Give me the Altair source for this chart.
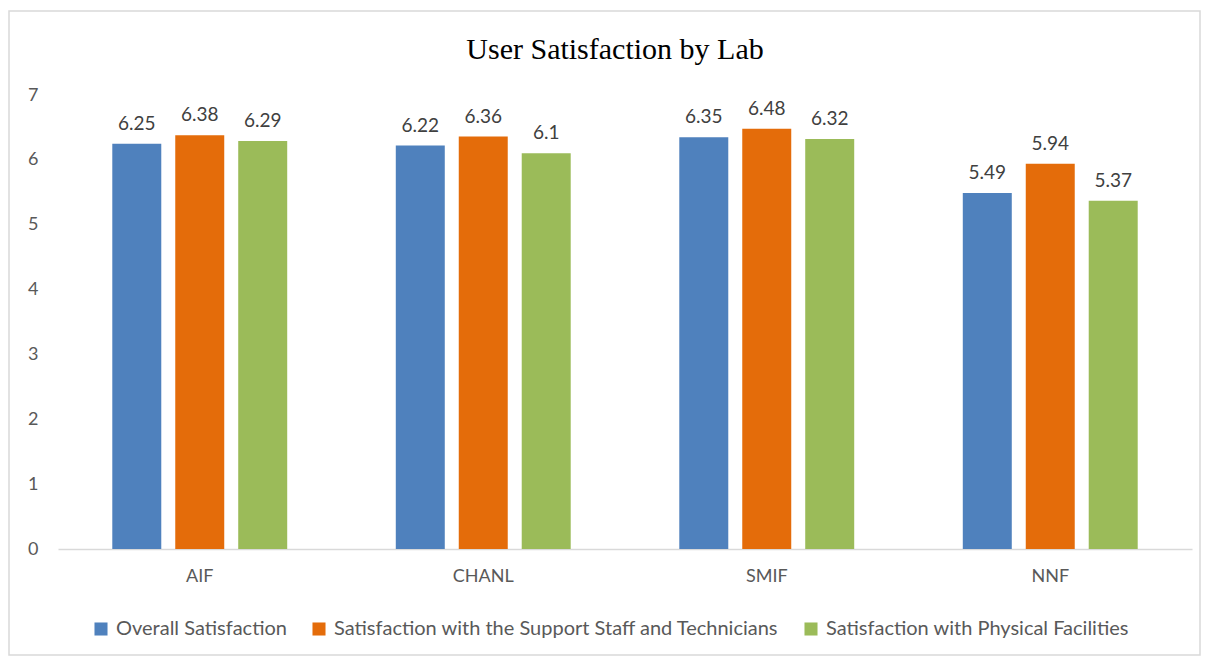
import altair as alt
import pandas as pd

labs = ["AIF", "CHANL", "SMIF", "NNF"]
series = ["Overall Satisfaction",
          "Satisfaction with the Support Staff and Technicians",
          "Satisfaction with Physical Facilities"]
overall = [6.25, 6.22, 6.35, 5.49]
staff = [6.38, 6.36, 6.48, 5.94]
facilities = [6.29, 6.1, 6.32, 5.37]
colors = ["#4F81BD", "#E46C0A", "#9BBB59"]

rows = []
for i, lab in enumerate(labs):
    for s, vals in zip(series, [overall, staff, facilities]):
        rows.append({"Lab": lab, "Series": s, "Value": vals[i]})
df = pd.DataFrame(rows)

FONT = "Lato"
W, H = 1134, 454

x = alt.X("Lab:N", sort=labs, title=None,
          scale=alt.Scale(paddingInner=0.383, paddingOuter=0.1915),
          axis=alt.Axis(labelAngle=0, labelFont=FONT, labelFontSize=18, labelColor="#595959",
                        labelPadding=18, ticks=False, domainColor="#D9D9D9", domainWidth=1.5))
xo = alt.XOffset("Series:N", sort=series, scale=alt.Scale(paddingInner=0.222, paddingOuter=0))
y = alt.Y("Value:Q", title=None, scale=alt.Scale(domain=[0, 7]),
          axis=alt.Axis(values=list(range(8)), grid=False, domain=False, ticks=False,
                        labelFont=FONT, labelFontSize=18, labelColor="#595959", labelPadding=20))

bars = alt.Chart(df).mark_bar().encode(
    x=x, xOffset=xo, y=y,
    color=alt.Color("Series:N", sort=series,
                    scale=alt.Scale(domain=series, range=colors),
                    legend=alt.Legend(title=None, orient="none", direction="horizontal",
                                      legendX=33, legendY=524, columns=3,
                                      symbolType="square", symbolSize=170, symbolStrokeWidth=0,
                                      labelFont=FONT, labelFontSize=20, labelColor="#595959",
                                      labelLimit=700, columnPadding=22, labelOffset=5)),
)

labels = alt.Chart(df).mark_text(baseline="bottom", dy=-10, font=FONT, fontSize=19,
                                 color="#404040").encode(
    x=x, xOffset=xo, y=y, text=alt.Text("Value:Q")
)

border = alt.Chart(pd.DataFrame({"a": [0]})).mark_rect(
    fill="transparent", stroke="#D9D9D9", strokeWidth=1.5
).encode(x=alt.value(-49), x2=alt.value(1142), y=alt.value(-84), y2=alt.value(560))

chart = alt.layer(border, bars, labels).properties(
    width=W, height=H,
    background="white",
    title=alt.TitleParams("User Satisfaction by Lab", font="Liberation Serif", fontSize=30,
                          fontWeight="normal", color="#000000", anchor="middle",
                          frame="group", offset=-55, dx=-10),
    autosize=alt.AutoSizeParams(type="none"),
    padding={"left": 58, "top": 95, "right": 15, "bottom": 109},
).configure_view(strokeWidth=0, stroke=None)

chart.save("out.html", embed_options={"renderer": "svg", "actions": False})
